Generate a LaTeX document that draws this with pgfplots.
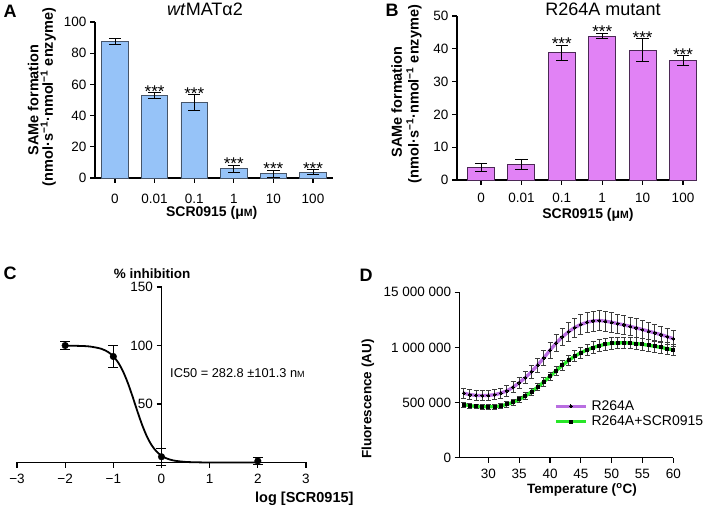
\documentclass[border=0pt]{standalone}
\usepackage{fontspec}
\setmainfont{Liberation Sans}
\usepackage{pgfplots}
\pgfplotsset{compat=1.18}
\usepackage{pgfplotstable}

\definecolor{barblue}{RGB}{150,195,248}
\definecolor{barblueedge}{RGB}{70,85,105}
\definecolor{barviolet}{RGB}{225,130,245}
\definecolor{barvioletedge}{RGB}{75,40,85}
\definecolor{linepurple}{RGB}{185,110,225}
\definecolor{linegreen}{RGB}{40,230,40}
\definecolor{errgray}{RGB}{60,60,60}

% Panel A: wtMATalpha2
\pgfplotstableread{
x y e
115 87.6 1.7
154.6 52.8 2.0
194.2 48.3 5.0
233.8 5.8 2.5
273.4 2.8 2.2
313 3.6 1.6
}\dataA
% Panel B: R264A mutant
\pgfplotstableread{
x y e
481 3.8 1.2
521.4 4.8 1.5
561.8 38.8 2.3
602.2 43.9 0.8
642.6 39.6 3.5
683 36.4 1.5
}\dataB
% Panel C: points
\pgfplotstableread{
x y e
-2 100 3.5
-1 90.6 9.6
0 4.9 7
2 1.3 3
}\dataCpts
% Panel C: fitted curve
\pgfplotstableread{
x y
-2 99.9
-1.75 99.7
-1.5 99.2
-1.25 97.2
-1.1 94.2
-1.0 90.7
-0.9 85.5
-0.8 78.0
-0.7 68.1
-0.6 56.3
-0.5 43.7
-0.4 31.9
-0.3 22.0
-0.2 14.5
-0.1 9.3
0 5.8
0.1 3.6
0.25 1.7
0.5 0.5
0.75 0.15
1.0 0.05
2.0 0
}\dataCcurve
% Panel D
\pgfplotstableread{
x y e
26 585000 45000
27 572000 45000
28 565000 45000
29 563000 45000
30 565000 45000
31 571000 46000
32 585000 47000
33 606000 48000
34 638000 50000
35 680000 52000
36 726000 55000
37 780000 59000
38 840000 63000
39 905000 67000
40 975000 72000
41 1040000 76000
42 1095000 80000
43 1142000 84000
44 1180000 87000
45 1208000 89000
46 1228000 90000
47 1240000 91000
48 1244000 91000
49 1238000 90000
50 1228000 89000
51 1216000 87000
52 1204000 86000
53 1191000 84000
54 1177000 82000
55 1162000 80000
56 1147000 78000
57 1132000 76000
58 1116000 74000
59 1098000 72000
60 1079000 71000
}\dataDa
\pgfplotstableread{
x y e
26 482000 22000
27 472000 22000
28 465000 22000
29 462000 22000
30 461000 22000
31 464000 22000
32 470000 23000
33 483000 24000
34 502000 25000
35 528000 27000
36 560000 29000
37 597000 31000
38 640000 34000
39 688000 37000
40 738000 40000
41 789000 43000
42 838000 45000
43 882000 48000
44 920000 50000
45 952000 51000
46 978000 52000
47 999000 53000
48 1016000 53000
49 1029000 53000
50 1037000 53000
51 1041000 53000
52 1042000 53000
53 1040000 53000
54 1035000 53000
55 1028000 53000
56 1019000 53000
57 1010000 53000
58 1000000 53000
59 989000 53000
60 977000 53000
}\dataDb

\tikzset{fs/.style={font=\fontsize{#1}{#1}\selectfont}}
\pgfplotsset{
  prism/.style={
    scale only axis, enlargelimits=false, clip=false,
    axis x line*=bottom, axis y line*=left,
    axis line style={line width=1.5pt,-},
    tick align=outside, major tick length=5pt,
    tick style={line width=1.2pt, black},
    /pgf/number format/assume math mode=true,
    anchor=south west,
  },
}

\begin{document}
\begin{tikzpicture}
\path[use as bounding box] (0pt,0pt) rectangle (709pt,506pt);

% ---------------- Panel A ----------------
\begin{axis}[prism, at={(95pt,328pt)}, width=238pt, height=156pt,
  xmin=95, xmax=333, ymin=0, ymax=100,
  ytick={0,20,...,100},
  xtick={115,154.6,194.2,233.8,273.4,313},
  xticklabels={0,0.01,0.1,1,10,100},
  ticklabel style={fs=13.5},
  xticklabel style={yshift=-8pt},
  ybar, bar width=26.5]
\addplot[fill=barblue, draw=barblueedge, line width=0.9pt,
  error bars/.cd, y dir=both, y explicit,
  error bar style={line width=0.9pt, black},
  error mark options={rotate=90, mark size=6.2pt, line width=0.9pt, black}]
  table[x=x,y=y,y error=e]{\dataA};
\node[anchor=base, fs=17, yshift=-4.5pt] at (axis cs:154.6,54.8) {***};
\node[anchor=base, fs=17, yshift=-4.5pt] at (axis cs:194.2,53.3) {***};
\node[anchor=base, fs=17, yshift=-4.5pt] at (axis cs:233.8,8.3) {***};
\node[anchor=base, fs=17, yshift=-4.5pt] at (axis cs:273.4,5.0) {***};
\node[anchor=base, fs=17, yshift=-4.5pt] at (axis cs:313,5.2) {***};
\end{axis}
\node[font=\bfseries\fontsize{18}{18}\selectfont] at (10pt,495pt) {A};
\node[fs=18] at (205pt,497pt) {\textit{wt}MATα2};
\node[rotate=90, font=\bfseries\fontsize{14.5}{14.5}\selectfont] at (33.3pt,406pt) {SAMe formation};
\node[rotate=90, font=\bfseries\fontsize{14.5}{14.5}\selectfont] at (48.3pt,409pt) {(nmol·s\textsuperscript{−1}·nmol\textsuperscript{−1} enzyme)};
\node[font=\bfseries\fontsize{14}{14}\selectfont] at (211.7pt,293pt) {SCR0915 (μ{\fontsize{10.5}{10}\selectfont M})};

% ---------------- Panel B ----------------
\begin{axis}[prism, at={(457pt,326pt)}, width=240pt, height=164pt,
  xmin=457, xmax=697, ymin=0, ymax=50,
  ytick={0,10,...,50},
  xtick={481,521.4,561.8,602.2,642.6,683},
  xticklabels={0,0.01,0.1,1,10,100},
  ticklabel style={fs=13.5},
  xticklabel style={yshift=-5pt},
  ybar, bar width=27]
\addplot[fill=barviolet, draw=barvioletedge, line width=0.9pt,
  error bars/.cd, y dir=both, y explicit,
  error bar style={line width=0.9pt, black},
  error mark options={rotate=90, mark size=6.2pt, line width=0.9pt, black}]
  table[x=x,y=y,y error=e]{\dataB};
\node[anchor=base, fs=17, yshift=-4.5pt] at (axis cs:561.8,41.1) {***};
\node[anchor=base, fs=17, yshift=-4.5pt] at (axis cs:602.2,44.7) {***};
\node[anchor=base, fs=17, yshift=-4.5pt] at (axis cs:642.6,43.1) {***};
\node[anchor=base, fs=17, yshift=-4.5pt] at (axis cs:683,37.9) {***};
\end{axis}
\node[font=\bfseries\fontsize{18}{18}\selectfont] at (392pt,496pt) {B};
\node[fs=18] at (603pt,497pt) {R264A mutant};
\node[rotate=90, font=\bfseries\fontsize{14.5}{14.5}\selectfont] at (396.7pt,404pt) {SAMe formation};
\node[rotate=90, font=\bfseries\fontsize{14.5}{14.5}\selectfont] at (414pt,412pt) {(nmol·s\textsuperscript{−1}·nmol\textsuperscript{−1} enzyme)};
\node[font=\bfseries\fontsize{14}{14}\selectfont] at (588pt,291pt) {SCR0915 (μ{\fontsize{10.5}{10}\selectfont M})};

% ---------------- Panel C ----------------
\begin{axis}[scale only axis, enlargelimits=false, clip=false, anchor=south west,
  at={(17pt,43.5pt)}, width=289pt, height=175.5pt,
  xmin=-3, xmax=3, ymin=0, ymax=150,
  axis x line=bottom, axis y line=middle,
  axis line style={line width=1.8pt,-},
  tick align=outside, major tick length=5pt,
  tick style={line width=1.3pt, black},
  hide obscured x ticks=false, hide obscured y ticks=false,
  xtick={-3,-2,-1,0,1,2,3},
  xticklabels={−3,−2,−1,0,1,2,3},
  ytick={50,100,150},
  /pgf/number format/assume math mode=true,
  ticklabel style={fs=13.5},
  xticklabel style={yshift=-3pt}]
\addplot[black, line width=1.8pt, smooth] table[x=x,y=y]{\dataCcurve};
\addplot[only marks, mark=*, mark size=3.3pt, black,
  error bars/.cd, y dir=both, y explicit,
  error bar style={line width=0.9pt, black},
  error mark options={rotate=90, mark size=5pt, line width=0.9pt, black}]
  table[x=x,y=y,y error=e]{\dataCpts};
\end{axis}
\node[font=\bfseries\fontsize{18}{18}\selectfont] at (10pt,233pt) {C};
\node[font=\bfseries\fontsize{13.5}{13.5}\selectfont] at (152pt,232.7pt) {\% inhibition};
\node[font=\bfseries\fontsize{14.5}{14.5}\selectfont, anchor=west, inner sep=0pt] at (255pt,7.5pt) {log [SCR0915]};
\node[fs=12.8, anchor=west, inner sep=0pt] at (170pt,133pt) {IC50 = 282.8 ±101.3 n{\fontsize{9}{9}\selectfont M}};

% ---------------- Panel D ----------------
\begin{axis}[prism, at={(459.7pt,48.3pt)}, width=213.6pt, height=165.4pt,
  xmin=25.35, xmax=60, ymin=0, ymax=1500000,
  xtick={30,35,...,60},
  ytick={0,500000,1000000,1500000},
  yticklabels={0,500 000,1 000 000,15 000 000},
  scaled y ticks=false,
  ticklabel style={fs=13.5},
  xticklabel style={yshift=-3pt},
  legend style={at={(axis cs:40.65,523000)}, anchor=north west, draw=none, fill=none,
    font=\fontsize{14}{14}\selectfont, inner sep=0pt, row sep=3pt, column sep=3.5pt,
    nodes={inner sep=0.5pt}},
  legend cell align=left,
  legend image code/.code={\draw[mark repeat=2,mark phase=2,#1] plot coordinates {(0pt,0pt) (15pt,0pt) (30pt,0pt)};}]
\addplot[linepurple, line width=3.3pt, mark=*, mark size=1.5pt,
  mark options={black, fill=black, line width=0pt},
  error bars/.cd, y dir=both, y explicit,
  error bar style={line width=0.8pt, errgray},
  error mark options={rotate=90, mark size=2.5pt, line width=0.8pt, errgray}]
  table[x=x,y=y,y error=e]{\dataDa};
\addlegendentry{R264A}
\addplot[linegreen, line width=3.3pt, mark=square*, mark size=1.5pt,
  mark options={black, fill=black, line width=0pt},
  error bars/.cd, y dir=both, y explicit,
  error bar style={line width=0.8pt, errgray},
  error mark options={rotate=90, mark size=2.5pt, line width=0.8pt, errgray}]
  table[x=x,y=y,y error=e]{\dataDb};
\addlegendentry{R264A+SCR0915}
\end{axis}
\node[font=\bfseries\fontsize{18}{18}\selectfont] at (366pt,231pt) {D};
\node[rotate=90, font=\bfseries\fontsize{13.5}{13.5}\selectfont] at (368pt,107pt) {Fluorescence (AU)};
\node[font=\bfseries\fontsize{13.5}{13.5}\selectfont] at (582pt,16pt) {Temperature (\textsuperscript{o}C)};
\end{tikzpicture}
\end{document}
